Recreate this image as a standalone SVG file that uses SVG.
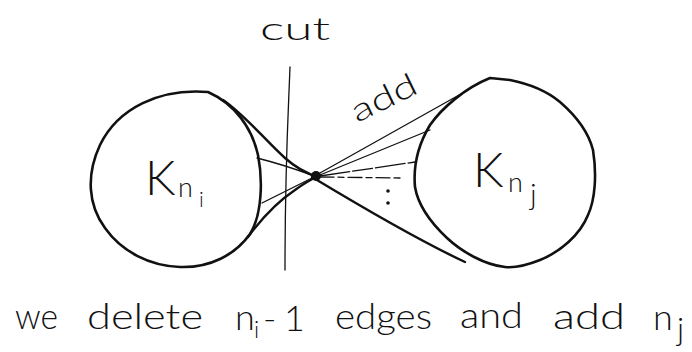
<svg xmlns="http://www.w3.org/2000/svg" width="692" height="352" viewBox="0 0 692 352">
<style>
.hand{font-family:"Lato","Liberation Sans","DejaVu Sans",sans-serif;font-weight:300;fill:#111;}
.blob{fill:none;stroke:#111;stroke-width:2.6;stroke-linejoin:round;stroke-linecap:round;}
.thick{fill:none;stroke:#111;stroke-width:2.4;stroke-linecap:round;}
.thin{fill:none;stroke:#111;stroke-width:1.3;stroke-linecap:round;}
</style>
<rect width="692" height="352" fill="#fff"/>
<g id="cut">
<path class="thin" d="M 290 67 C 288 120 285 165 285 270"/>
<text class="hand" x="260" y="40" font-size="32" textLength="70" lengthAdjust="spacingAndGlyphs">cut</text>
</g>
<g id="connectors">
<path class="thick" d="M 223 100 C 245 115 265 140 285 158 C 295 167 305 173 318 177"/>
<path class="thick" d="M 248 237 C 262 218 280 200 295 190 C 303 184 310 180 320 175"/>
<path class="thin" d="M 257 158 Q 285 165 314 176"/>
<path class="thin" d="M 262 203 L 314 177"/>
<path class="thin" d="M 320 173 L 468 90"/>
<path class="thin" d="M 320 175 L 430 130"/>
<path class="thin" d="M 320 176 L 415 162" stroke-dasharray="30 3 20 3"/>
<path class="thin" d="M 320 177 L 402 178" stroke-dasharray="14 4 6 4"/>
<path class="thick" d="M 312 177 C 360 206 420 241 465 262"/>
<circle cx="388" cy="191" r="1.8" fill="#111"/>
<circle cx="388" cy="203" r="1.8" fill="#111"/>
</g>
<g id="Kni">
<path class="blob" d="M 208 92 C 160 88 118 108 100 145 C 86 175 88 205 105 228 C 122 252 150 266 180 267 C 210 268 235 255 250 234 C 262 215 263 180 258 155 C 252 128 235 104 208 92 Z"/>
<text class="hand" x="145" y="195" font-size="48">K</text>
<text class="hand" x="178" y="197" font-size="27">n</text>
<text class="hand" x="199" y="207" font-size="21">i</text>
</g>
<g id="v">
<circle cx="316" cy="176" r="5" fill="#111"/>
</g>
<g id="Knj">
<path class="blob" d="M 490 78 L 510 80 C 530 84 548 92 560 102 C 575 115 588 130 593 150 C 597 175 595 200 588 215 C 580 235 560 252 540 260 C 525 266 515 268 505 267 C 485 265 462 252 447 238 C 430 222 418 205 415 187 C 413 165 418 145 430 125 C 442 108 465 88 490 78 Z"/>
<text class="hand" x="473" y="187" font-size="48">K</text>
<text class="hand" x="508" y="192" font-size="27">n</text>
<text class="hand" x="530" y="205" font-size="30">j</text>
</g>
<g id="add-label">
<text class="hand" x="357" y="123" font-size="32" textLength="70" lengthAdjust="spacingAndGlyphs" transform="rotate(-26 357 123)">add</text>
</g>
<g id="caption" font-size="36">
<text class="hand" x="15" y="329" textLength="43" lengthAdjust="spacingAndGlyphs">we</text>
<text class="hand" x="87" y="329" textLength="116" lengthAdjust="spacingAndGlyphs">delete</text>
<text class="hand" x="235" y="330">n</text>
<text class="hand" x="254" y="338" font-size="23">i</text>
<text class="hand" x="263" y="331">-</text>
<text class="hand" x="284" y="331">1</text>
<text class="hand" x="335" y="329" textLength="97" lengthAdjust="spacingAndGlyphs">edges</text>
<text class="hand" x="460" y="328" textLength="63" lengthAdjust="spacingAndGlyphs">and</text>
<text class="hand" x="553" y="329" textLength="72" lengthAdjust="spacingAndGlyphs">add</text>
<text class="hand" x="653" y="330">n</text>
<text class="hand" x="677" y="340" font-size="32">j</text>
</g>
</svg>
